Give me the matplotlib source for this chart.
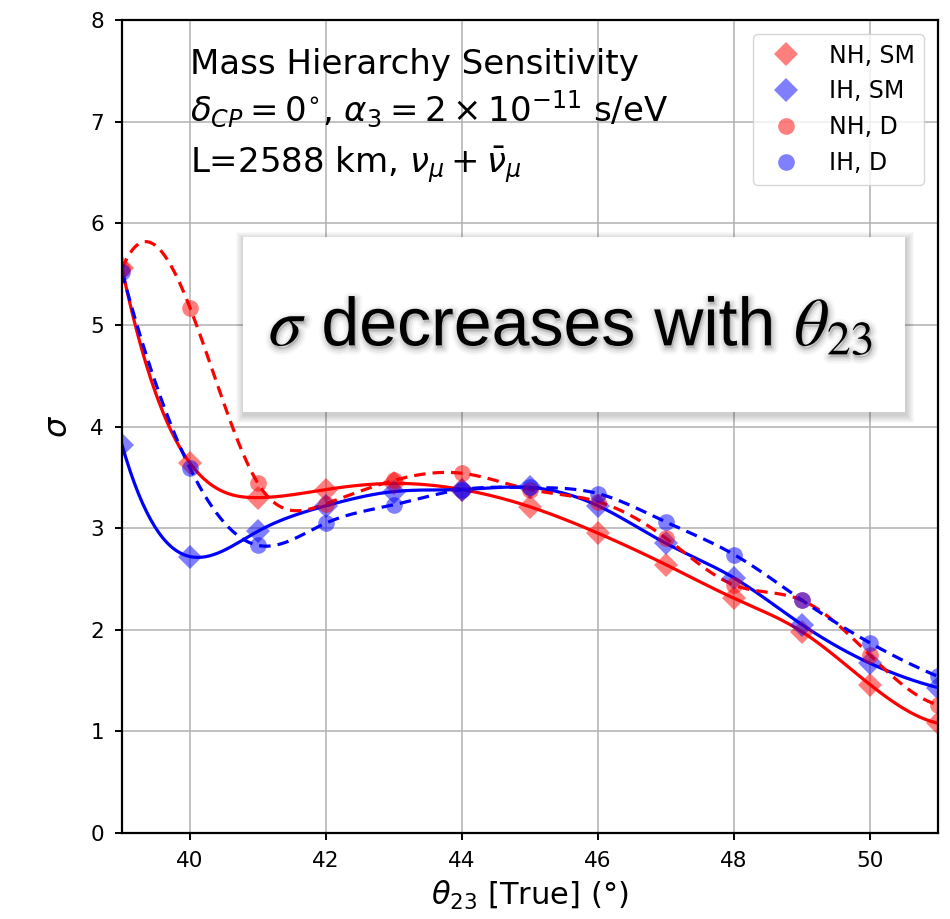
import numpy as np
import matplotlib
matplotlib.use('Agg')
import matplotlib.pyplot as plt
from matplotlib import patheffects
from matplotlib.patches import Rectangle

# theta_23 true values (deg)
theta = [39, 40, 41, 42, 43, 44, 45, 46, 47, 48, 49, 50, 51]

# sigma values
nh_sm = [5.56, 3.64, 3.30, 3.38, 3.44, 3.38, 3.21, 2.95, 2.64, 2.31, 1.98, 1.46, 1.08]
ih_sm = [3.82, 2.72, 2.97, 3.22, 3.36, 3.38, 3.40, 3.22, 2.85, 2.51, 2.05, 1.67, 1.43]
nh_d = [5.55, 5.17, 3.44, 3.24, 3.47, 3.54, 3.38, 3.26, 2.90, 2.44, 2.29, 1.75, 1.26]
ih_d = [5.52, 3.59, 2.83, 3.05, 3.23, 3.38, 3.40, 3.34, 3.06, 2.74, 2.29, 1.87, 1.54]

labels = ['NH, SM', 'IH, SM', 'NH, D', 'IH, D']


def spline(x, y, xs):
    # cubic spline, not-a-knot ends
    x = np.asarray(x, float)
    y = np.asarray(y, float)
    n = len(x)
    h = np.diff(x)
    A = np.zeros((n, n))
    b = np.zeros(n)
    for i in range(1, n - 1):
        A[i, i - 1] = h[i - 1]
        A[i, i] = 2 * (h[i - 1] + h[i])
        A[i, i + 1] = h[i]
        b[i] = 6 * ((y[i + 1] - y[i]) / h[i] - (y[i] - y[i - 1]) / h[i - 1])
    A[0, :3] = [h[1], -(h[0] + h[1]), h[0]]
    A[-1, -3:] = [h[-1], -(h[-2] + h[-1]), h[-2]]
    M = np.linalg.solve(A, b)
    i = np.clip(np.searchsorted(x, xs) - 1, 0, n - 2)
    hi = h[i]
    a = (x[i + 1] - xs) / hi
    c = (xs - x[i]) / hi
    return (a * y[i] + c * y[i + 1]
            + ((a ** 3 - a) * M[i] + (c ** 3 - c) * M[i + 1]) * hi ** 2 / 6)


fig = plt.figure(figsize=(9.5, 9.19), dpi=100)
ax = fig.add_axes([0.1284, 0.0936, 0.8590, 0.8846])

xs = np.linspace(theta[0], theta[-1], 400)
ax.plot(xs, spline(theta, nh_sm, xs), color='red', lw=2.3)
ax.plot(xs, spline(theta, ih_sm, xs), color='blue', lw=2.3)
ax.plot(xs, spline(theta, nh_d, xs), color='red', lw=2.3, ls='--', dashes=(3.6, 2.2))
ax.plot(xs, spline(theta, ih_d, xs), color='blue', lw=2.3, ls='--', dashes=(3.6, 2.2))

ax.plot(theta, nh_sm, 'D', color='red', alpha=0.5, ms=12, mew=0, label=labels[0])
ax.plot(theta, ih_sm, 'D', color='blue', alpha=0.5, ms=12, mew=0, label=labels[1])
ax.plot(theta, nh_d, 'o', color='red', alpha=0.5, ms=12, mew=0, label=labels[2])
ax.plot(theta, ih_d, 'o', color='blue', alpha=0.5, ms=12, mew=0, label=labels[3])

ax.set_xlim(39, 51)
ax.set_ylim(0, 8)
ax.set_xticks([40, 42, 44, 46, 48, 50])
ax.set_yticks(range(0, 9))
ax.grid(True, color='#b0b0b0', lw=1.1)
ax.set_axisbelow(True)
ax.tick_params(labelsize=15.5, width=1.4, length=5, pad=8)
for s in ax.spines.values():
    s.set_linewidth(1.6)

ax.set_xlabel(r'$\theta_{23}$ [True] ($\degree$)', fontsize=22, labelpad=6)
ax.set_ylabel(r'$\sigma$', fontsize=23, labelpad=12)

ax.legend(loc='upper right', fontsize=17, labelspacing=0.5, borderaxespad=0.6)

# info text
ax.text(40, 7.47, 'Mass Hierarchy Sensitivity', fontsize=24.5)
ax.text(40, 7.0, r'$\delta_{CP} = 0^{\circ}$, $\alpha_3 = 2 \times 10^{-11}$ s/eV', fontsize=24.5)
ax.text(40, 6.5, r'L=2588 km, $\nu_\mu + \bar{\nu}_\mu$', fontsize=24.5)

# callout box with soft shadow
bx0, by0, bw, bh = 0.148, 0.518, 0.8116, 0.215
px, py = 1 / 816, 1 / 813
for k in range(8, 0, -1):
    ax.add_patch(Rectangle((bx0 - k * px + 1 * px, by0 - k * py - 3 * py),
                           bw + 2 * k * px, bh + 2 * k * py,
                           transform=ax.transAxes, fc='black', ec='none',
                           alpha=0.022, zorder=5))
ax.add_patch(Rectangle((bx0, by0), bw, bh, transform=ax.transAxes,
                       fc='white', ec='none', zorder=6))
t = ax.text(bx0 + bw / 2 - 0.004, by0 + bh / 2 - 0.004,
            r'$\sigma$ decreases with $\theta_{23}$',
            transform=ax.transAxes, ha='center', va='center',
            fontsize=49, family='Liberation Sans', math_fontfamily='stix',
            zorder=7)
t.set_path_effects([
    patheffects.Stroke(linewidth=9, foreground='black', alpha=0.03, offset=(1, -2)),
    patheffects.Stroke(linewidth=6, foreground='black', alpha=0.05, offset=(1, -2)),
    patheffects.Stroke(linewidth=3, foreground='black', alpha=0.07, offset=(1, -2)),
    patheffects.Normal(),
])

fig.savefig('out.png', dpi=100)
